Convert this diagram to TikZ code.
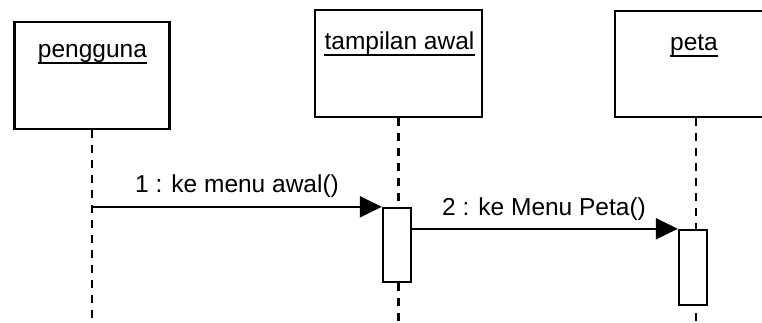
\documentclass[tikz,border=0pt]{standalone}
\usepackage{fontspec}
\setmainfont{Liberation Sans}
\usetikzlibrary{arrows.meta}
\tikzset{
  objbox/.style={draw=black, line width=2.4pt, fill=white, inner sep=0pt},
  actbox/.style={draw=black, line width=2.4pt, fill=white, inner sep=0pt, minimum width=28pt},
  lifeline/.style={draw=black, line width=2.4pt, dash pattern=on 8pt off 7pt},
  msg/.style={draw=black, line width=2.2pt, -{Triangle[length=22pt,width=21pt]}},
  lbl/.style={inner sep=0pt, anchor=base, font=\fontsize{24.5}{28}\selectfont},
  uline/.style={draw=black, line width=1.8pt}
}
\begin{document}
\begin{tikzpicture}[x=1pt,y=-1pt]
\useasboundingbox (0,0) rectangle (762,323);
\clip (0,0) rectangle (762,323);
\fill[white] (0,0) rectangle (762,323);
% object boxes
\node[objbox, minimum width=155pt, minimum height=107pt] (pb) at (92,75.5) {};
\node[objbox, minimum width=167pt, minimum height=107pt] (tb) at (398.5,63.5) {};
\node[objbox, minimum width=162pt, minimum height=106pt] (kb) at (696,64) {};
% lifelines
\coordinate (pe) at (92,330);
\coordinate (te) at (398.5,330);
\coordinate (ke) at (696,330);
\draw[lifeline] (pb.south) -- (pe);
\draw[lifeline] (tb.south) -- (te);
\draw[lifeline] (kb.south) -- (ke);
% box labels
\node[lbl] (pt) at (92.5,58) {pengguna};
\node[lbl] (tt) at (399.5,50) {tampilan awal};
\node[lbl] (kt) at (694,51) {peta};
\draw[uline] ([yshift=-5pt]pt.base west) -- ([yshift=-5pt]pt.base east);
\draw[uline] ([yshift=-5pt]tt.base west) -- ([yshift=-5pt]tt.base east);
\draw[uline] ([yshift=-5pt]kt.base west) -- ([yshift=-5pt]kt.base east);
% activations
\node[actbox, minimum height=74pt] (a1) at (397,245) {};
\node[actbox, minimum height=75pt] (a2) at (693,267.5) {};
% messages
\draw[msg] (a1.north west -| pb.south) -- (a1.north west);
\draw[msg] (a1.east |- a2.north west) -- (a2.north west);
\node[lbl] (m1) at (237,192) {1 : ke menu awal()};
\node[lbl] (m2) at (544,215) {2 : ke Menu Peta()};
\end{tikzpicture}
\end{document}
